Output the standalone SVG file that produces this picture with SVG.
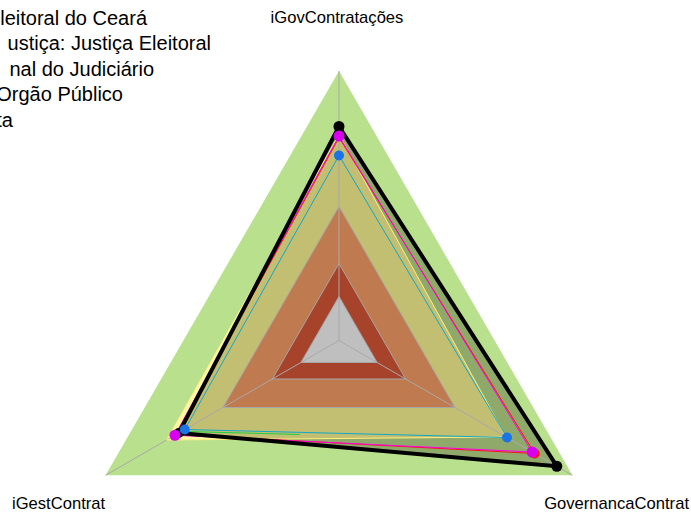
<svg xmlns="http://www.w3.org/2000/svg" width="691" height="513" viewBox="0 0 691 513">
<style>
.lbl{font-family:"Liberation Sans",Arial,sans-serif;fill:#000}
.leg{font-size:20px}
.ax{font-size:16.6px}
.band{stroke:#A6A6A6;stroke-width:1}
.axis{stroke:#A9A9A9;stroke-width:1;fill:none}
.ser{fill:none;stroke-linejoin:miter}
</style>
<defs>
<clipPath id="clipBlack"><polygon points="339,126.5 178.8,433 556.8,466.25"/></clipPath>
</defs>
<rect width="691" height="513" fill="#FFFFFF"/>
<g id="legend">
<text class="lbl leg" x="147" y="24.5" text-anchor="end">leitoral do Ceará</text>
<text class="lbl leg" x="211" y="50" text-anchor="end">ustiça: Justiça Eleitoral</text>
<text class="lbl leg" x="154" y="75.5" text-anchor="end">nal do Judiciário</text>
<text class="lbl leg" x="123" y="101" text-anchor="end">Orgão Público</text>
<text class="lbl leg" x="13" y="126.5" text-anchor="end">ta</text>
</g>
<g id="background">
<polygon points="339,71 105.6,475.25 572.4,475.25" fill="#B9E08C"/>
<polygon points="339,134.5 166.7,440 506.1,437" fill="#FFF6A6"/>
<polygon points="339,126.5 178.8,433 556.8,466.25" fill="#8FA96B"/>
<polygon points="339,134.5 166.7,440 506.1,437" fill="#C2BE72" clip-path="url(#clipBlack)"/>
<polygon class="band" points="339,206.5 223,407.5 455,407.5" fill="#BF7A50"/>
<polygon class="band" points="339,263.5 272.3,379 405.7,379" fill="#A8432B"/>
<polygon class="band" points="339,296.5 300.9,362.5 377.1,362.5" fill="#BFBFBF"/>
</g>
<g id="axes">
<line class="axis" x1="339" y1="340.5" x2="339" y2="71"/>
<line class="axis" x1="339" y1="340.5" x2="105.6" y2="475.25"/>
<line class="axis" x1="339" y1="340.5" x2="572.4" y2="475.25"/>
</g>
<g id="connectors">
<polygon class="ser" points="339,134.5 166.7,440 506.1,437" stroke="#FFF080" stroke-width="1"/>
<polyline class="ser" points="186,431.5 300,434.5" stroke="#20D040" stroke-width="1"/>
<polygon class="ser" points="339,155.5 184.8,429.5 507,437.5" stroke="#10A8C8" stroke-width="1"/>
<polygon class="ser" points="339,137.5 176.2,434.5 534.7,453.5" stroke="#FF1010" stroke-width="1"/>
<polygon class="ser" points="339,136 174.9,435.25 532.1,452" stroke="#FF00E0" stroke-width="1"/>
<polygon class="ser" points="339,126.5 178.8,433 556.8,466.25" stroke="#000000" stroke-width="4"/>
</g>
<g id="points">
<circle cx="534.7" cy="453.5" r="5" fill="#FF1010"/>
<circle cx="339" cy="126.5" r="5.5" fill="#000"/>
<circle cx="178.8" cy="433" r="5" fill="#000"/>
<circle cx="556.8" cy="466.25" r="5.5" fill="#000"/>
<circle cx="339" cy="136" r="5.5" fill="#D900F0"/>
<circle cx="174.9" cy="435.25" r="5.5" fill="#D900F0"/>
<circle cx="532.1" cy="452" r="5.5" fill="#D900F0"/>
<circle cx="339" cy="155.5" r="5" fill="#1A74E8"/>
<circle cx="184.8" cy="429.5" r="5" fill="#1A74E8"/>
<circle cx="507" cy="437.5" r="5" fill="#1A74E8"/>
</g>
<g id="axis-labels">
<text class="lbl ax" x="337" y="23" text-anchor="middle">iGovContratações</text>
<text class="lbl ax" x="12" y="509">iGestContrat</text>
<text class="lbl ax" x="689" y="509" text-anchor="end">GovernancaContrat</text>
</g>
</svg>
